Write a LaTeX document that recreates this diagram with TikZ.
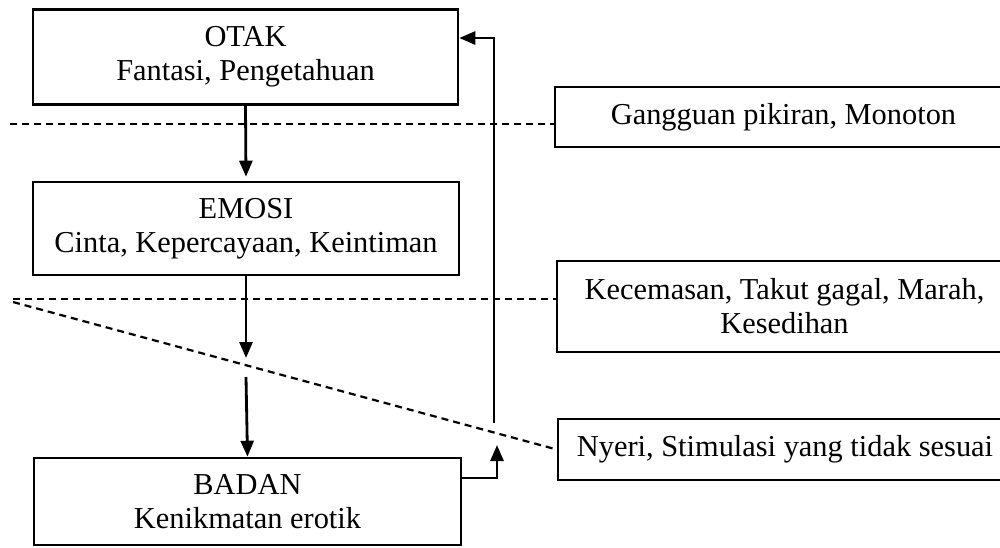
\documentclass[tikz,border=0pt]{standalone}
\usepackage{fontspec}
\setmainfont{Liberation Serif}
\usetikzlibrary{arrows.meta}
\begin{document}
\begin{tikzpicture}[x=0.5pt,y=-0.5pt,
  box/.style={draw, line width=1.3pt, inner sep=0pt, align=center,
              font=\fontsize{15.2}{17}\selectfont},
  arr/.style={line width=1.4pt, -{Triangle[length=8pt,width=6.5pt]}},
  cut/.style={line width=1.1pt, dash pattern=on 3.5pt off 2.5pt}]
\useasboundingbox (0,0) rectangle (1000,547);
\clip (0,0) rectangle (1000,547);

% left column: the three levels
\node[box, minimum width=212.5pt, minimum height=47.5pt] (otak)  at (245.5,57)  {OTAK\\Fantasi, Pengetahuan};
\node[box, minimum width=213pt,   minimum height=46.5pt] (emosi) at (246,228.5) {EMOSI\\Cinta, Kepercayaan, Keintiman};
\node[box, minimum width=213.5pt, minimum height=43.5pt] (badan) at (247.5,501.5) {BADAN\\Kenikmatan erotik};

% right column: the disturbances
\node[box, minimum width=228.5pt, minimum height=30pt]   (gang)  at (783.5,117)  {Gangguan pikiran, Monoton};
\node[box, minimum width=227.5pt, minimum height=45.5pt] (cemas) at (784.5,306.5) {Kecemasan, Takut gagal, Marah,\\Kesedihan};
\node[box, minimum width=227pt,   minimum height=30.5pt] (nyeri) at (785,449.5)  {Nyeri, Stimulasi yang tidak sesuai};

% free ends of the dashed barriers
\coordinate (c1) at (10,124);
\coordinate (c2) at (13,299);
\coordinate (c3) at (13,302);

\draw[cut] (c1) -- (c1 -| gang.west);
\draw[cut] (c2) -- (c2 -| cemas.west);
\draw[cut] (c3) -- (nyeri.west);

% downward flow
\coordinate (m1) at (246,358);
\coordinate (m2) at (246,377);
\draw[arr, shorten >=2pt] (otak.south) -- (emosi.north);
\draw[arr] (emosi.south) -- (m1);
\draw[arr] (m2) -- (badan.north);

% feedback from body back to brain
\coordinate (fbturn) at (497,478);
\coordinate (fbtip)  at (497,445);
\coordinate (fbup)   at (494,423);
\coordinate (fbtop)  at (494,38);
\draw[arr] (badan.east |- fbturn) -- (fbturn) -- (fbtip);
\draw[arr] (fbup) -- (fbtop) -- (otak.east |- fbtop);
\end{tikzpicture}
\end{document}
